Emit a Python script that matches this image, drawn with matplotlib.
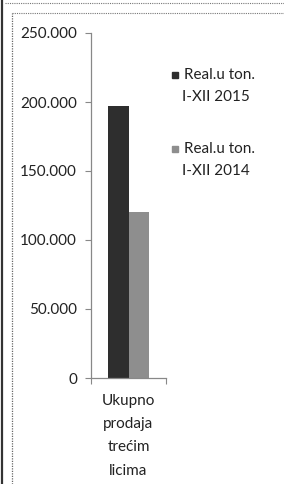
import matplotlib
matplotlib.use("Agg")
import matplotlib.pyplot as plt
import matplotlib.patches as patches
from matplotlib.lines import Line2D
from matplotlib.ticker import FuncFormatter

plt.rcParams['font.family'] = ['Lato', 'DejaVu Sans']

# data
categories = ["Ukupno\nprodaja\ntrećim\nlicima"]
series_labels = ["Real.u ton.\nI-XII 2015", "Real.u ton.\nI-XII 2014"]
values_2015 = [197000]
values_2014 = [120000]
yticks = [0, 50000, 100000, 150000, 200000, 250000]

colors = ['#2e2e2e', '#8e8e8e']

W, H = 284, 484
fig = plt.figure(figsize=(W / 100, H / 100), dpi=100)

# frames around the chart (pixel coords -> figure fraction)
def px(x, y):
    return x / W, 1 - y / H

fig.add_artist(Line2D([2 / W, 2 / W], [0, 1], color='#333333', lw=1.6))
fig.add_artist(Line2D([5 / W, 1], [1 - 3 / H, 1 - 3 / H], color='#777777', lw=0.8, ls=(0, (1, 1))))
fig.add_artist(Line2D([12 / W, 12 / W], [0, 1 - 13 / H], color='#666666', lw=0.9, ls=(0, (1, 1))))
fig.add_artist(Line2D([12 / W, 1], [1 - 13 / H, 1 - 13 / H], color='#777777', lw=0.8, ls=(0, (1, 1))))

ax = fig.add_axes([91 / W, 1 - 378 / H, 75 / W, 345 / H])
x = list(range(len(categories)))
bw = 0.275
ax.bar([i - bw / 2 for i in x], values_2015, width=bw, color=colors[0], label=series_labels[0])
ax.bar([i + bw / 2 for i in x], values_2014, width=bw, color=colors[1], label=series_labels[1])

ax.set_xlim(-0.5, 0.5)
ax.set_ylim(0, 250000)
ax.set_yticks(yticks)
ax.yaxis.set_major_formatter(FuncFormatter(lambda v, p: f"{int(v):,}".replace(",", ".")))
ax.set_xticks([-0.5, 0.5])
ax.set_xticklabels([])
ax.tick_params(axis='y', length=4, width=0.8, color='#888888', labelsize=11, pad=6, labelcolor='#222222')
ax.tick_params(axis='x', length=4, width=0.8, color='#888888')
for s in ['top', 'right']:
    ax.spines[s].set_visible(False)
for s in ['left', 'bottom']:
    ax.spines[s].set_color('#888888')
    ax.spines[s].set_linewidth(0.9)

for i, c in zip(x, categories):
    ax.text(i, -0.045, c, transform=ax.get_xaxis_transform(), ha='center', va='top',
            fontsize=11, linespacing=1.85, color='#222222')

# legend drawn beside the plot
legend_y = [75, 149]
for lab, col, ly in zip(series_labels, colors, legend_y):
    fig.add_artist(patches.Rectangle(px(172, ly + 3), 6 / W, 6 / H, color=col))
    first, second = lab.split("\n")
    fig.text(*px(219, ly), first, ha='center', va='center', fontsize=11, color='#222222')
    fig.text(*px(216, ly + 22), second, ha='center', va='center', fontsize=11, color='#222222')

fig.savefig("out.png", dpi=100)
